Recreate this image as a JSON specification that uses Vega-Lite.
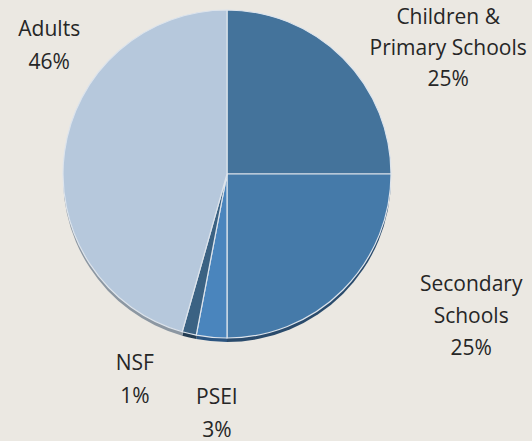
{
  "$schema": "https://vega.github.io/schema/vega-lite/v6.json",
  "width": 454,
  "height": 328,
  "padding": {"left": 0, "top": 10, "right": 78, "bottom": 103},
  "autosize": {"type": "none"},
  "background": "#ebe8e2",
  "view": {"stroke": null},
  "data": {
    "values": [
      {"key": "children", "name": "Children &\nPrimary Schools", "value": 25, "order": 1},
      {"key": "secondary", "name": "Secondary\nSchools", "value": 25, "order": 2},
      {"key": "psei", "name": "PSEI", "value": 3, "order": 3},
      {"key": "nsf", "name": "NSF", "value": 1.4, "order": 4},
      {"key": "adults", "name": "Adults", "value": 45.6, "order": 5}
    ]
  },
  "transform": [
    {"calculate": "datum.name + '\\n' + format(datum.value, '.0f') + '%'", "as": "label"}
  ],
  "encoding": {
    "theta": {"field": "value", "type": "quantitative", "stack": true},
    "order": {"field": "order", "type": "quantitative"}
  },
  "layer": [
    {
      "mark": {"type": "arc", "y": {"expr": "height/2 + 4"}},
      "encoding": {
        "color": {
          "field": "key", "type": "nominal", "legend": null,
          "scale": {"domain": ["children", "secondary", "psei", "nsf", "adults"],
                    "range": ["#2b4d6d", "#2a4b6c", "#2c5580", "#243d53", "#8c97a2"]}
        }
      }
    },
    {
      "mark": {"type": "arc", "stroke": "#dde4ec", "strokeWidth": 1.2},
      "encoding": {
        "color": {
          "field": "key", "type": "nominal", "legend": null,
          "scale": {"domain": ["children", "secondary", "psei", "nsf", "adults"],
                    "range": ["#44739b", "#457aa9", "#4a85bd", "#3b6283", "#b6c8dc"]}
        }
      }
    },
    {
      "mark": {"type": "text", "radius": 235, "dx": 55, "dy": 10, "font": "Open Sans", "fontSize": 21, "lineHeight": 31, "lineBreak": "\n", "color": "#262626", "align": "center", "baseline": "middle"},
      "encoding": {"text": {"condition": {"test": "datum.key === 'children'", "field": "label"}, "value": ""}}
    },
    {
      "mark": {"type": "text", "radius": 235, "dx": 78, "dy": -55, "font": "Open Sans", "fontSize": 21, "lineHeight": 32, "lineBreak": "\n", "color": "#262626", "align": "center", "baseline": "middle"},
      "encoding": {"text": {"condition": {"test": "datum.key === 'secondary'", "field": "label"}, "value": ""}}
    },
    {
      "mark": {"type": "text", "radius": 235, "dx": 12, "dy": -10, "font": "Open Sans", "fontSize": 21, "lineHeight": 33, "lineBreak": "\n", "color": "#262626", "align": "center", "baseline": "middle"},
      "encoding": {"text": {"condition": {"test": "datum.key === 'psei'", "field": "label"}, "value": ""}}
    },
    {
      "mark": {"type": "text", "radius": 235, "dx": -38, "dy": -39, "font": "Open Sans", "fontSize": 21, "lineHeight": 33, "lineBreak": "\n", "color": "#262626", "align": "center", "baseline": "middle"},
      "encoding": {"text": {"condition": {"test": "datum.key === 'nsf'", "field": "label"}, "value": ""}}
    },
    {
      "mark": {"type": "text", "radius": 235, "dx": 55, "dy": -112, "font": "Open Sans", "fontSize": 21, "lineHeight": 33, "lineBreak": "\n", "color": "#262626", "align": "center", "baseline": "middle"},
      "encoding": {"text": {"condition": {"test": "datum.key === 'adults'", "field": "label"}, "value": ""}}
    }
  ],
  "resolve": {"scale": {"color": "independent"}}
}
